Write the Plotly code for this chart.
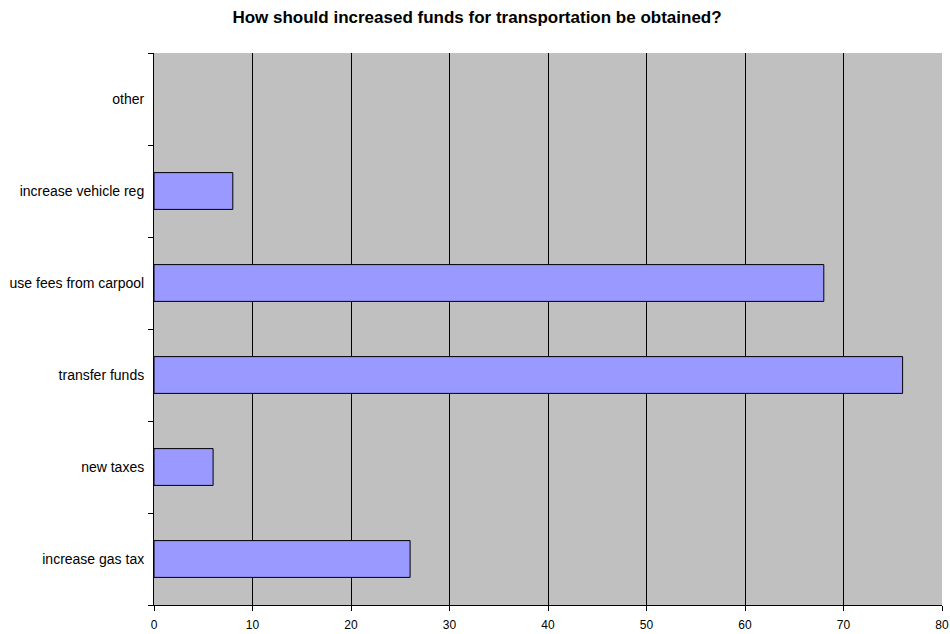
import plotly.graph_objects as go

categories = ["increase gas tax", "new taxes", "transfer funds",
              "use fees from carpool", "increase vehicle reg", "other"]
values = [26, 6, 76, 68, 8, 0]
x_ticks = [0, 10, 20, 30, 40, 50, 60, 70, 80]

# no outline on empty bars
outline = [1 if v > 0 else 0 for v in values]

fig = go.Figure(go.Bar(
    x=values, y=categories, orientation="h", width=0.4,
    marker={"color": "#9999FF", "line": {"color": "#000000", "width": outline}},
))

W, H = 950, 634
fig.update_layout(
    title={"text": "<b>How should increased funds for transportation be obtained?</b>",
           "x": 477 / W, "xanchor": "center", "y": 1 - 17 / H, "yanchor": "middle",
           "font": {"family": "Liberation Sans, Arial", "size": 17, "color": "#000"}},
    width=W, height=H,
    margin={"l": 154, "r": 8, "t": 53, "b": 29},
    paper_bgcolor="white", plot_bgcolor="#C0C0C0",
    font={"family": "Liberation Sans, Arial", "size": 12, "color": "#000"},
    showlegend=False,
)
fig.update_xaxes(
    range=[0, 80], tickvals=x_ticks, showgrid=True, gridcolor="#000000", gridwidth=1,
    showline=True, linecolor="#000000", linewidth=1, automargin=False,
    ticks="outside", ticklen=5, tickcolor="#000000", zeroline=False,
    tickfont={"size": 12}, ticklabeloverflow="allow", ticklabelstandoff=4,
)
fig.update_yaxes(
    type="category", categoryorder="array", categoryarray=categories,
    tickson="boundaries", ticks="outside", ticklen=5, tickcolor="#000000",
    showgrid=False, showline=True, linecolor="#000000", linewidth=1,
    automargin=False, ticklabelstandoff=6, tickfont={"size": 14},
)

# drop the default body margin so the figure fills the window exactly
fig.write_html("out.html", config={"displayModeBar": False},
               post_script="document.body.style.margin = '0';")
